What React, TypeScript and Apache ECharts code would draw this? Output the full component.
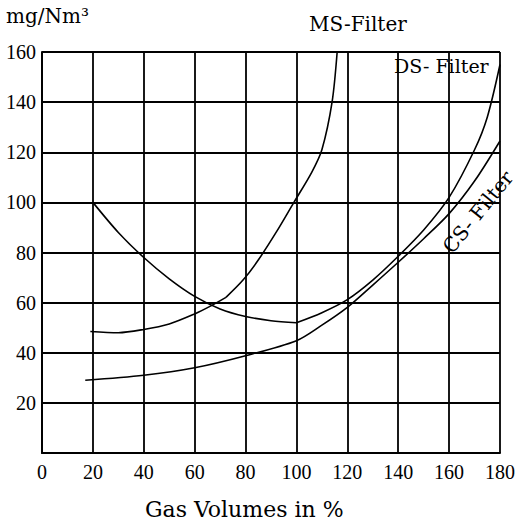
import React, { useEffect, useRef } from "react";
import * as echarts from "echarts";

// MS-Filter (two pieces, slight kink near 72 %)
const msLowX = [19, 30, 40, 50, 60, 66, 72.3];
const msLowY = [48.5, 48, 49.3, 51.5, 55.5, 58.5, 62.1];
const msHighX = [72.3, 79, 85, 92, 99, 106, 110, 114, 116];
const msHighY = [62.1, 69, 77, 88, 100, 112, 121, 140, 160];

// DS-Filter (falling branch, then rising branch after a kink at 100 %)
const dsFallX = [20, 30, 40, 50, 60, 70, 80, 90, 100];
const dsFallY = [100, 88, 78, 69.5, 62.5, 57.5, 54.5, 52.8, 52];
const dsRiseX = [100, 110, 120, 130, 140, 150, 160, 170, 175, 180];
const dsRiseY = [52, 56, 61.2, 69, 78.5, 89, 102, 121, 134, 155];

// CS-Filter
const csX = [17, 40, 60, 80, 100, 110, 120, 130, 140, 150, 160, 170, 180];
const csY = [29, 31, 34, 38.8, 44.8, 51, 58.1, 67, 76.1, 85.5, 95.5, 108.5, 124.5];

const xTicks = [0, 20, 40, 60, 80, 100, 120, 140, 160, 180];
const yTicks = [0, 20, 40, 60, 80, 100, 120, 140, 160];

const xTitle = "Gas Volumes in %";
const yUnit = "mg/Nm\u00B3";
const msLabel = "MS-Filter";
const dsLabel = "DS- Filter";
const csLabel = "CS- Filter";

const zip = (xs: number[], ys: number[]) => xs.map((x, i) => [x, ys[i]]);

const serifTick = "Times New Roman, Liberation Serif, serif";
const serifText = "DejaVu Serif, serif";

export default function App() {
  const ref = useRef<HTMLDivElement>(null);
  useEffect(() => {
    if (!ref.current) return;
    const chart = echarts.init(ref.current, null, { renderer: "svg" });
    const lineStyle = { color: "#000", width: 1.6 };
    const mk = (name: string, xs: number[], ys: number[]) => ({
      type: "line",
      name,
      data: zip(xs, ys),
      showSymbol: false,
      smooth: 0.3,
      lineStyle,
      silent: true,
    });
    const txt = (text: string, size: number) => ({
      text,
      fill: "#000",
      fontFamily: serifText,
      fontSize: size,
    });
    chart.setOption({
      animation: false,
      backgroundColor: "#fff",
      textStyle: { fontFamily: serifTick },
      grid: { left: 42, right: 16, top: 52, bottom: 73, containLabel: false },
      xAxis: {
        type: "value",
        min: xTicks[0],
        max: xTicks[xTicks.length - 1],
        interval: 20,
        axisLine: { show: true, onZero: false, lineStyle: { color: "#000", width: 2 } },
        axisTick: { show: false },
        splitLine: { show: true, lineStyle: { color: "#000", width: 1.8 } },
        axisLabel: {
          color: "#000",
          fontFamily: serifTick,
          fontSize: 20,
          margin: 9,
        },
      },
      yAxis: {
        type: "value",
        min: yTicks[0],
        max: yTicks[yTicks.length - 1],
        interval: 20,
        axisLine: { show: true, onZero: false, lineStyle: { color: "#000", width: 2 } },
        axisTick: { show: false },
        splitLine: { show: true, lineStyle: { color: "#000", width: 1.8 } },
        axisLabel: {
          color: "#000",
          fontFamily: serifTick,
          fontSize: 20,
          margin: 6,
          formatter: (v: number) => (v === 0 ? "" : String(v)),
        },
      },
      graphic: [
        { type: "text", left: 6, top: 6, style: txt(yUnit, 20) },
        { type: "text", left: 309, top: 14, style: txt(msLabel, 20) },
        { type: "text", left: 394, top: 56, style: txt(dsLabel, 19) },
        {
          type: "text",
          x: 478,
          y: 212,
          rotation: (51 * Math.PI) / 180,
          style: { ...txt(csLabel, 20), align: "center", verticalAlign: "middle" },
        },
        { type: "text", left: 145, top: 498, style: txt(xTitle, 22) },
      ],
      series: [
        mk("MS-Filter low", msLowX, msLowY),
        mk("MS-Filter high", msHighX, msHighY),
        mk("DS-Filter fall", dsFallX, dsFallY),
        mk("DS-Filter rise", dsRiseX, dsRiseY),
        mk("CS-Filter", csX, csY),
      ],
    });
    return () => chart.dispose();
  }, []);
  return (
    <div
      ref={ref}
      style={{ position: "fixed", left: 0, top: 0, width: 518, height: 526, background: "#fff" }}
    />
  );
}
